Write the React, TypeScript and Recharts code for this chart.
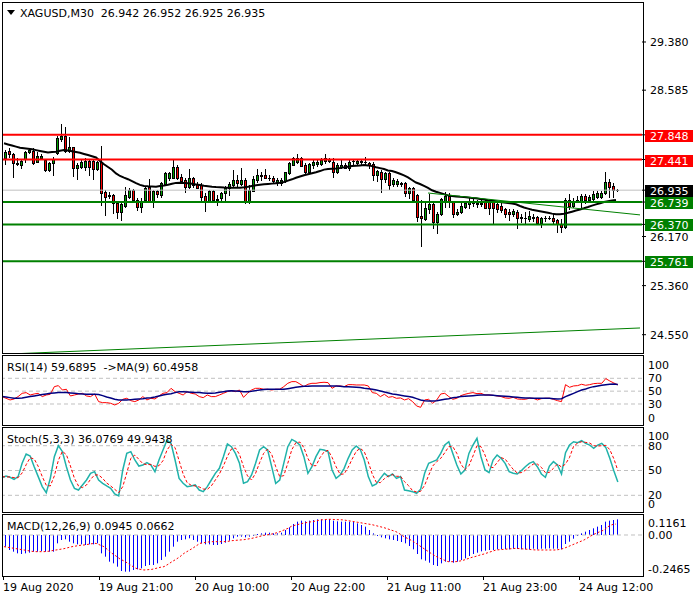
import React from 'react';
import { ComposedChart, Bar, Line, XAxis, YAxis, ReferenceLine } from 'recharts';

const FONT = '"DejaVu Sans", Verdana, sans-serif';

// ---------- data ----------
const opens = [27.471,27.581,27.537,27.378,27.350,27.449,27.570,27.586,27.405,27.461,
27.433,27.268,27.378,27.543,27.779,27.829,27.581,27.652,27.296,27.322,
27.312,27.416,27.421,27.284,27.405,26.900,26.855,26.855,26.718,26.580,
26.679,26.827,26.938,26.773,26.662,26.773,26.992,26.756,26.921,26.855,
27.032,27.141,27.141,27.322,27.157,27.103,26.992,27.141,27.032,27.020,
26.844,26.756,26.921,26.794,26.801,26.883,26.966,27.020,27.103,27.032,
27.103,26.735,26.921,27.103,27.174,27.185,27.141,27.141,27.065,27.048,
27.086,27.213,27.350,27.405,27.461,27.350,27.240,27.350,27.362,27.362,
27.416,27.416,27.405,27.230,27.322,27.350,27.296,27.416,27.388,27.405,
27.405,27.378,27.362,27.185,27.240,27.119,27.213,27.032,27.032,27.032,
27.048,26.883,26.966,26.855,26.514,26.459,26.624,26.702,26.415,26.537,
26.756,26.844,26.735,26.537,26.570,26.662,26.702,26.718,26.718,26.712,
26.735,26.735,26.735,26.702,26.679,26.624,26.570,26.547,26.580,26.497,
26.481,26.459,26.487,26.497,26.388,26.471,26.476,26.471,26.443,26.372,
26.332,26.773,26.679,26.740,26.756,26.844,26.773,26.789,26.827,26.827,
26.883,27.065,27.009,26.942];

const highs = [27.598,27.626,27.548,27.471,27.433,27.581,27.636,27.626,27.570,27.527,
27.444,27.405,27.487,27.834,28.022,27.982,27.817,27.652,27.378,27.433,
27.461,27.433,27.444,27.416,27.664,26.938,26.900,26.872,26.756,26.718,
26.992,26.976,26.954,26.801,26.801,27.009,27.119,26.938,26.938,27.075,
27.240,27.240,27.433,27.350,27.197,27.131,27.284,27.157,27.065,27.048,
26.883,26.938,26.938,26.855,26.910,27.009,27.075,27.268,27.185,27.306,
27.141,27.020,27.174,27.284,27.240,27.284,27.185,27.174,27.141,27.141,
27.240,27.405,27.487,27.527,27.487,27.378,27.378,27.449,27.433,27.471,
27.527,27.471,27.471,27.378,27.433,27.378,27.433,27.449,27.449,27.433,
27.487,27.405,27.395,27.268,27.268,27.240,27.240,27.131,27.119,27.075,
27.075,26.992,26.992,26.867,26.773,26.756,26.867,26.735,26.570,26.811,
26.900,26.883,26.756,26.624,26.718,26.756,26.801,26.789,26.773,26.773,
26.773,26.773,26.756,26.735,26.718,26.646,26.624,26.624,26.608,26.537,
26.580,26.591,26.537,26.514,26.497,26.514,26.514,26.553,26.459,26.459,
26.801,26.867,26.811,26.844,26.867,26.867,26.855,26.921,26.921,26.921,
27.240,27.119,27.048,26.952];

const lows = [27.362,27.487,27.157,27.350,27.296,27.405,27.543,27.372,27.395,27.449,
27.251,27.251,27.185,27.527,27.746,27.570,27.570,27.174,27.114,27.296,
27.268,27.185,27.114,27.268,26.690,26.525,26.801,26.553,26.481,26.443,
26.662,26.801,26.756,26.608,26.580,26.756,26.735,26.662,26.827,26.827,
27.020,27.103,27.131,27.119,27.075,26.900,26.976,26.992,26.976,26.756,
26.591,26.745,26.756,26.690,26.756,26.773,26.855,27.009,26.992,27.020,
26.718,26.718,26.921,27.075,27.103,27.131,27.103,27.075,27.020,27.020,
27.075,27.197,27.350,27.378,27.339,27.213,27.230,27.296,27.339,27.350,
27.378,27.395,27.157,27.213,27.296,27.296,27.268,27.362,27.362,27.350,
27.350,27.306,27.103,27.086,26.900,27.075,26.954,27.009,27.009,27.009,
26.844,26.801,26.735,26.426,26.018,26.443,26.553,26.316,26.223,26.525,
26.662,26.662,26.497,26.525,26.553,26.636,26.646,26.679,26.662,26.679,
26.636,26.537,26.388,26.580,26.570,26.497,26.443,26.514,26.306,26.405,
26.388,26.426,26.426,26.388,26.332,26.426,26.459,26.388,26.250,26.240,
26.316,26.624,26.662,26.735,26.646,26.718,26.735,26.773,26.801,26.811,
26.867,26.827,26.827,26.925];

const closes = [27.570,27.537,27.378,27.362,27.416,27.560,27.598,27.388,27.494,27.499,
27.268,27.378,27.449,27.801,27.834,27.581,27.652,27.296,27.350,27.405,
27.421,27.312,27.279,27.395,26.893,26.827,26.839,26.718,26.580,26.702,
26.855,26.938,26.773,26.662,26.756,26.966,26.756,26.921,26.867,27.048,
27.213,27.213,27.322,27.141,27.086,26.992,27.131,27.020,26.976,26.827,
26.756,26.921,26.773,26.773,26.883,26.966,27.032,27.103,27.048,27.103,
26.735,26.938,27.119,27.185,27.180,27.141,27.131,27.086,27.103,27.103,
27.230,27.378,27.461,27.461,27.339,27.230,27.362,27.395,27.405,27.433,
27.461,27.444,27.230,27.350,27.350,27.306,27.405,27.421,27.416,27.411,
27.400,27.350,27.185,27.251,27.119,27.213,27.020,27.103,27.086,27.048,
26.883,26.966,26.773,26.497,26.471,26.636,26.702,26.415,26.537,26.789,
26.844,26.735,26.537,26.580,26.679,26.718,26.735,26.723,26.702,26.718,
26.646,26.646,26.636,26.624,26.608,26.537,26.547,26.591,26.481,26.471,
26.471,26.514,26.481,26.388,26.471,26.481,26.478,26.426,26.372,26.332,
26.773,26.679,26.735,26.773,26.844,26.773,26.827,26.867,26.883,26.883,
27.065,26.992,26.938,26.935];

const movingAvg = [27.708,27.690,27.672,27.654,27.636,27.628,27.618,27.609,27.596,27.583,
27.570,27.557,27.563,27.570,27.585,27.598,27.589,27.578,27.565,27.553,
27.533,27.514,27.494,27.474,27.418,27.362,27.317,27.271,27.212,27.169,
27.141,27.116,27.083,27.050,27.022,27.004,26.999,26.996,26.992,27.002,
27.012,27.024,27.040,27.055,27.057,27.053,27.050,27.040,27.029,27.019,
27.009,27.001,26.992,26.987,26.984,26.979,26.976,26.976,26.976,26.976,
26.982,26.992,27.004,27.015,27.024,27.032,27.037,27.043,27.050,27.057,
27.071,27.093,27.114,27.139,27.161,27.182,27.199,27.215,27.230,27.250,
27.274,27.283,27.288,27.293,27.301,27.311,27.322,27.334,27.339,27.344,
27.350,27.344,27.332,27.312,27.299,27.283,27.261,27.251,27.230,27.205,
27.180,27.147,27.103,27.061,27.037,27.005,26.971,26.933,26.910,26.890,
26.870,26.849,26.839,26.832,26.825,26.821,26.814,26.807,26.801,26.791,
26.781,26.769,26.760,26.751,26.741,26.733,26.723,26.713,26.702,26.674,
26.649,26.631,26.611,26.598,26.586,26.575,26.561,26.548,26.537,26.537,
26.545,26.561,26.580,26.598,26.617,26.636,26.657,26.680,26.700,26.718,
26.740,26.753,26.765,26.773];

const rsi = [41.5,38.9,36.3,37.8,41.5,46.6,47.7,44.0,45.6,46.6,
41.5,44.0,45.1,57.0,58.6,51.8,52.9,42.5,44.0,45.6,
46.6,42.5,41.5,45.6,33.7,32.1,32.1,31.1,28.5,31.1,
37.3,38.9,35.2,33.7,36.3,41.5,36.3,38.9,37.8,42.5,
46.6,47.7,54.4,49.2,46.6,44.0,49.2,46.6,45.6,41.5,
39.9,44.0,41.5,41.5,44.0,46.6,49.2,50.8,49.2,51.8,
40.4,46.6,51.8,54.4,54.4,52.9,52.9,51.8,52.9,52.9,
57.0,62.2,64.8,64.8,61.2,57.0,60.7,62.2,62.2,63.3,
63.8,63.3,54.4,58.1,58.1,57.0,60.1,60.1,59.6,59.6,
59.6,58.1,47.7,46.6,41.5,45.1,40.4,41.5,38.9,39.4,
36.3,38.3,33.7,26.9,24.8,36.3,37.3,31.1,36.3,45.6,
46.6,41.5,37.3,38.9,43.0,45.1,46.6,47.7,46.1,46.6,
44.0,44.0,43.5,42.5,41.5,39.4,38.9,40.4,37.8,37.3,
37.3,38.9,38.9,36.3,38.3,38.9,38.9,37.3,35.2,33.7,
60.1,56.0,58.1,58.6,60.7,59.1,60.1,61.7,62.2,62.2,
69.5,65.8,62.7,59.69];

const rsiMa = [41.5,40.9,39.9,38.9,38.9,39.4,40.4,41.5,42.5,43.5,
44.6,45.6,46.6,47.2,47.7,47.7,47.7,47.2,46.6,46.1,
45.6,45.1,45.1,45.1,44.6,43.0,40.9,39.4,37.3,36.3,
36.3,36.3,36.8,37.3,37.8,38.3,39.4,39.9,40.9,42.5,
44.0,45.1,46.1,47.7,49.2,49.2,48.7,48.2,47.7,47.7,
47.2,46.6,46.6,47.2,48.2,49.2,50.3,50.8,50.3,49.8,
49.2,49.2,49.8,50.8,51.8,52.4,52.9,52.9,52.9,52.9,
52.9,53.9,54.9,56.0,57.0,57.5,57.5,58.1,58.1,58.1,
58.1,58.1,58.1,58.1,57.5,57.0,57.0,56.5,56.0,55.5,
54.4,53.9,52.9,51.8,50.3,48.7,47.2,45.6,44.6,43.5,
42.5,41.5,40.4,38.3,36.3,35.2,34.7,34.7,35.2,36.3,
37.3,38.3,39.9,40.4,41.5,42.0,42.5,43.0,43.5,44.0,
44.0,44.0,43.5,43.0,42.5,42.0,41.5,40.9,40.4,39.9,
39.4,39.4,38.9,38.9,38.9,38.9,38.9,38.3,37.8,38.3,
41.5,44.0,46.6,49.2,51.8,53.4,55.5,57.0,58.1,59.1,
60.1,60.7,61.2,60.50];

const stochK = [41.3,43.4,41.8,39.3,42.6,58.7,69.9,67.5,54.6,42.6,
30.5,23.2,40.5,66.7,80.0,72.8,54.6,38.5,28.4,26.4,
32.5,38.5,46.6,48.6,38.5,34.5,31.3,28.4,21.6,19.2,
50.6,70.7,72.8,62.7,55.4,56.6,59.5,56.6,48.6,62.7,
74.8,86.8,82.8,62.7,40.5,34.5,30.5,31.3,32.5,26.4,
24.4,30.5,38.5,46.6,52.6,66.7,82.0,78.8,70.7,58.7,
34.5,36.5,44.6,58.7,74.8,78.8,74.8,54.6,34.5,38.5,
58.7,78.8,87.6,84.8,80.8,66.7,46.6,54.6,66.7,75.6,
74.8,72.8,50.6,40.5,44.6,52.6,64.7,74.8,79.6,75.6,
62.7,42.6,31.3,33.7,40.5,46.6,42.6,45.8,40.5,42.6,
26.4,25.6,24.4,22.4,27.2,46.6,58.7,60.7,62.7,70.7,
80.8,84.8,70.7,56.6,45.8,50.6,70.7,80.8,88.9,66.7,
50.6,47.4,62.7,68.7,64.7,58.7,48.6,46.6,45.8,49.8,
54.6,58.7,60.7,54.6,45.8,41.8,55.4,60.7,56.6,45.8,
71.5,80.8,84.8,83.6,86.0,82.8,80.8,76.8,80.8,82.8,
78.0,64.7,49.8,36.08];

const stochD = [42.6,42.2,42.2,41.3,41.3,47.0,57.0,65.5,63.9,55.0,
42.6,32.1,31.3,43.4,62.3,73.2,69.1,55.4,40.5,31.3,
29.3,32.5,39.3,44.6,44.6,40.5,34.9,31.3,27.2,23.2,
30.5,47.0,64.7,68.7,63.5,58.2,57.0,57.4,55.0,55.8,
61.9,74.8,81.6,77.6,61.9,45.8,35.3,32.1,31.3,30.1,
27.6,27.2,31.3,38.5,45.8,55.4,67.1,76.0,77.2,69.5,
54.6,43.4,38.5,46.6,59.5,70.7,76.0,69.5,54.6,42.6,
43.8,58.7,75.2,83.6,84.4,77.6,64.7,55.8,55.8,65.5,
72.4,74.4,65.9,54.6,45.4,45.8,53.8,63.9,73.2,76.8,
72.8,60.3,45.4,35.7,35.3,40.1,43.4,45.0,43.0,43.0,
36.5,31.7,25.6,24.0,24.8,32.1,44.2,55.4,60.7,64.7,
71.5,78.8,78.8,70.7,57.8,51.0,55.8,67.5,80.0,78.8,
68.7,55.0,53.4,59.5,65.5,63.9,57.4,51.4,47.0,47.4,
50.2,54.2,57.8,57.8,53.8,47.4,47.8,52.6,57.8,54.2,
57.8,65.9,79.2,83.2,84.8,84.0,83.2,80.0,79.6,80.0,
80.4,75.2,64.3,49.94];

const macdHist = [-0.0705,-0.0906,-0.1007,-0.1108,-0.1148,-0.1108,-0.1067,-0.1007,-0.1007,-0.0967,
-0.1007,-0.1007,-0.1007,-0.0504,-0.0302,-0.0262,-0.0403,-0.0504,-0.0564,-0.0564,
-0.0604,-0.0564,-0.0564,-0.0504,-0.1108,-0.1309,-0.1611,-0.1712,-0.1913,-0.2175,
-0.2216,-0.2216,-0.2115,-0.2074,-0.2014,-0.1873,-0.1813,-0.1813,-0.1712,-0.1511,
-0.1309,-0.1007,-0.0705,-0.0403,-0.0302,-0.0262,-0.0201,-0.0302,-0.0403,-0.0504,
-0.0564,-0.0564,-0.0604,-0.0604,-0.0544,-0.0463,-0.0342,-0.0201,-0.0101,-0.0101,
-0.0141,-0.0101,-0.0020,0.0060,0.0101,0.0141,0.0141,0.0101,0.0101,0.0141,
0.0302,0.0463,0.0665,0.0806,0.0866,0.0826,0.0866,0.0906,0.0947,0.0947,
0.0947,0.0967,0.0866,0.0826,0.0806,0.0806,0.0806,0.0785,0.0705,0.0604,
0.0504,0.0302,0.0101,-0.0040,-0.0141,-0.0201,-0.0262,-0.0302,-0.0363,-0.0423,
-0.0504,-0.0665,-0.0866,-0.1148,-0.1470,-0.1551,-0.1672,-0.1813,-0.1873,-0.1712,
-0.1611,-0.1611,-0.1672,-0.1611,-0.1511,-0.1410,-0.1269,-0.1148,-0.1067,-0.0987,
-0.0947,-0.0906,-0.0906,-0.0866,-0.0846,-0.0846,-0.0866,-0.0826,-0.0846,-0.0866,
-0.0866,-0.0866,-0.0826,-0.0866,-0.0826,-0.0826,-0.0806,-0.0826,-0.0826,-0.0866,
-0.0544,-0.0403,-0.0222,-0.0060,0.0101,0.0201,0.0302,0.0403,0.0504,0.0604,
0.0806,0.0866,0.0906,0.0945];

const macdSignal = [-0.0705,-0.0745,-0.0785,-0.0826,-0.0866,-0.0906,-0.0947,-0.0987,-0.1007,-0.1007,
-0.1007,-0.0987,-0.0947,-0.0906,-0.0866,-0.0826,-0.0765,-0.0705,-0.0665,-0.0624,
-0.0604,-0.0564,-0.0524,-0.0504,-0.0604,-0.0705,-0.0906,-0.1108,-0.1269,-0.1450,
-0.1571,-0.1712,-0.1873,-0.2014,-0.2074,-0.2115,-0.2095,-0.2074,-0.2014,-0.1954,
-0.1913,-0.1772,-0.1611,-0.1470,-0.1309,-0.1108,-0.0967,-0.0826,-0.0665,-0.0504,
-0.0463,-0.0423,-0.0403,-0.0403,-0.0403,-0.0403,-0.0383,-0.0342,-0.0322,-0.0302,
-0.0282,-0.0242,-0.0201,-0.0141,-0.0081,-0.0020,0.0020,0.0060,0.0121,0.0201,
0.0302,0.0403,0.0544,0.0604,0.0665,0.0725,0.0765,0.0806,0.0846,0.0906,
0.0926,0.0947,0.0947,0.0926,0.0926,0.0906,0.0866,0.0826,0.0785,0.0745,
0.0705,0.0665,0.0624,0.0564,0.0504,0.0443,0.0363,0.0282,0.0201,0.0060,
-0.0101,-0.0222,-0.0342,-0.0504,-0.0665,-0.0826,-0.0987,-0.1148,-0.1289,-0.1410,
-0.1511,-0.1611,-0.1611,-0.1611,-0.1571,-0.1511,-0.1430,-0.1349,-0.1289,-0.1208,
-0.1148,-0.1067,-0.0987,-0.0906,-0.0886,-0.0866,-0.0846,-0.0826,-0.0806,-0.0826,
-0.0846,-0.0866,-0.0886,-0.0906,-0.0906,-0.0906,-0.0906,-0.0906,-0.0906,-0.0866,
-0.0806,-0.0705,-0.0604,-0.0504,-0.0403,-0.0302,-0.0161,-0.0020,0.0101,0.0201,
0.0302,0.0504,0.0624,0.0662];

const SLOTS = 160; // 154 bars + right shift
const timeTickIndex = [0, 24, 48, 72, 96, 120, 144];
const timeTickLabels = ['19 Aug 2020', '19 Aug 21:00', '20 Aug 10:00', '20 Aug 22:00', '21 Aug 11:00', '21 Aug 23:00', '24 Aug 12:00'];

const priceTicks = [29.38, 28.585, 26.17, 25.36, 24.55];
const lastPrice = 26.935;
const levelValues = [27.848, 27.441, 26.739, 26.37, 25.761];
const levelColors = ['#ff0000', '#ff0000', '#008000', '#008000', '#008000'];
// trend lines: [startBar, startPrice, endBar, endPrice]
const trendLines = [
  [0, 24.228, 159, 24.661],
  [106, 26.888, 159, 26.527],
];

const rsiTicks = [100, 70, 50, 30, 0];
const rsiLevels = [70, 50, 30];
const stochTicks = [100, 80, 50, 20, 0];
const stochLevels = [80, 50, 20];
const macdTicks = [0.1161, 0, -0.2465];

const rows = Array.from({ length: SLOTS }, (_, i) =>
  i < opens.length
    ? {
        i,
        range: [lows[i], highs[i]],
        open: opens[i], high: highs[i], low: lows[i], close: closes[i],
        ma: movingAvg[i], rsi: rsi[i], rsiMa: rsiMa[i],
        k: stochK[i], d: stochD[i], hist: macdHist[i], sig: macdSignal[i],
      }
    : { i }
);

// ---------- shapes ----------
function Candle(props: any) {
  const { x, y, width, height, payload } = props;
  if (!payload || payload.high == null || !(height > 0)) return <g />;
  const { open, close, high, low } = payload;
  const cx = Math.round(x + width / 2);
  const k = height / (high - low);
  const py = (v: number) => y + (high - v) * k;
  const hi = Math.round(y);
  const lo = Math.round(y + height);
  const top = Math.round(py(Math.max(open, close)));
  const bot = Math.round(py(Math.min(open, close)));
  const h = Math.max(bot - top, 0);
  const bull = close >= open;
  return (
    <g>
      <rect x={cx} y={hi} width={1} height={lo - hi + 1} fill="#000" />
      <rect x={cx - 1} y={top} width={3} height={h + 1} fill="#000" />
      {h >= 2 && <rect x={cx} y={top + 1} width={1} height={h - 1} fill={bull ? '#00a000' : '#ff0000'} />}
    </g>
  );
}

function HistBar(props: any) {
  const { x, y, width, height } = props;
  if (height == null || isNaN(height) || isNaN(y)) return <g />;
  const cx = Math.round(x + width / 2);
  const y0 = Math.min(y, y + height);
  const h = Math.abs(height);
  return <rect x={cx} y={y0} width={1} height={Math.max(h, 1)} fill="#0000ff" />;
}

function PriceTick(props: any) {
  const { x, y, payload } = props;
  const v = payload.value as number;
  const label = v.toFixed(3);
  let box: string | null = null;
  if (v === lastPrice) box = '#000000';
  const li = levelValues.indexOf(v);
  if (li >= 0) box = levelColors[li];
  if (box) {
    const top = Math.round(y) - 5;
    return (
      <g>
        <rect x={x - 5} y={top} width={48} height={12} fill={box} />
        <text x={x} y={top + 10} fill="#fff" fontSize={11} fontFamily={FONT}>{label}</text>
      </g>
    );
  }
  return <text x={x} y={y + 4} fill="#000" fontSize={11} fontFamily={FONT}>{label}</text>;
}

function makeSubTick(cTop: number, cBottom: number, fmt: (v: number) => string) {
  return (props: any) => {
    const { x, y, payload } = props;
    const cy = Math.min(Math.max(y, cTop), cBottom);
    return (
      <text x={x} y={cy + 4} fill="#000" fontSize={11} fontFamily={FONT}>{fmt(payload.value)}</text>
    );
  };
}

function TimeTick(props: any) {
  const { x, y, payload } = props;
  const idx = timeTickIndex.indexOf(payload.value);
  if (idx < 0) return <g />;
  const tx = Math.round(x) - 1;
  return (
    <g>
      <line x1={tx + 0.5} x2={tx + 0.5} y1={y} y2={y + 4} stroke="#000" />
      <text x={tx} y={y + 15} fill="#000" fontSize={11} fontFamily={FONT}>{timeTickLabels[idx]}</text>
    </g>
  );
}

const rsiTick = makeSubTick(10, 63, (v) => String(v));
const stochTick = makeSubTick(8.7, 77, (v) => String(v));
const macdTick = makeSubTick(9.3, 54.7, (v) => (v === 0 ? '0.00' : v.toFixed(4)));

const box = (top: number, height: number): React.CSSProperties => ({
  position: 'absolute', left: 2, top, width: 642, height, boxSizing: 'border-box',
  border: '1px solid #000', pointerEvents: 'none',
});

export default function App() {
  return (
    <div style={{ position: 'absolute', left: 0, top: 0, width: 700, height: 600, background: '#fff', fontFamily: FONT }}>
      {/* main price chart */}
      <div style={{ position: 'absolute', left: 0, top: 0 }}>
        <ComposedChart width={700} height={356} data={rows} margin={{ top: 3, right: 0, bottom: 3, left: 2 }}>
          <XAxis dataKey="i" type="category" hide />
          <YAxis
            orientation="right" width={58} type="number" domain={[24.248, 30.0235]} allowDataOverflow
            ticks={[...priceTicks, lastPrice, ...levelValues]} interval={0}
            tick={(p: any) => <PriceTick {...p} />} tickSize={4} tickMargin={4}
            tickLine={{ stroke: '#000' }} axisLine={false}
          />
          <ReferenceLine y={lastPrice} stroke="#c0c0c0" strokeWidth={1} />
          <Bar dataKey="range" barSize={3} shape={(p: any) => <Candle {...p} />} isAnimationActive={false} />
          <Line dataKey="ma" stroke="#000" strokeWidth={2} dot={false} isAnimationActive={false} />
          {trendLines.map((t, n) => (
            <ReferenceLine key={'t' + n} segment={[{ x: t[0], y: t[1] }, { x: t[2], y: t[3] }]} stroke="#008000" strokeWidth={1} ifOverflow="hidden" />
          ))}
          {levelValues.map((v, n) => (
            <ReferenceLine key={'l' + n} y={v} stroke={levelColors[n]} strokeWidth={2} />
          ))}
        </ComposedChart>
      </div>

      {/* RSI */}
      <div style={{ position: 'absolute', left: 0, top: 355 }}>
        <ComposedChart width={700} height={71} data={rows} margin={{ top: 1, right: 0, bottom: 1, left: 2 }}>
          <XAxis dataKey="i" type="category" hide />
          <YAxis orientation="right" width={58} type="number" domain={[-2.7, 104.7]} allowDataOverflow
            ticks={rsiTicks} interval={0} tick={rsiTick} tickSize={0} tickMargin={6} tickLine={false} axisLine={false} />
          {rsiLevels.map((v) => (
            <ReferenceLine key={v} y={v} stroke="#c0c0c0" strokeDasharray="4 3" />
          ))}
          <Line dataKey="rsi" stroke="#ff0000" strokeWidth={1} dot={false} isAnimationActive={false} />
          <Line dataKey="rsiMa" stroke="#000080" strokeWidth={1.5} dot={false} isAnimationActive={false} />
        </ComposedChart>
      </div>

      {/* Stochastic */}
      <div style={{ position: 'absolute', left: 0, top: 427 }}>
        <ComposedChart width={700} height={86} data={rows} margin={{ top: 1, right: 0, bottom: 1, left: 2 }}>
          <XAxis dataKey="i" type="category" hide />
          <YAxis orientation="right" width={58} type="number" domain={[-0.2, 101.4]} allowDataOverflow
            ticks={stochTicks} interval={0} tick={stochTick} tickSize={0} tickMargin={6} tickLine={false} axisLine={false} />
          {stochLevels.map((v) => (
            <ReferenceLine key={v} y={v} stroke="#c0c0c0" strokeDasharray="4 3" />
          ))}
          <Line dataKey="k" stroke="#20b2aa" strokeWidth={1.5} dot={false} isAnimationActive={false} />
          <Line dataKey="d" stroke="#ff0000" strokeWidth={1} strokeDasharray="3 2" dot={false} isAnimationActive={false} />
        </ComposedChart>
      </div>

      {/* MACD */}
      <div style={{ position: 'absolute', left: 0, top: 514 }}>
        <ComposedChart width={700} height={85} data={rows} margin={{ top: 1, right: 0, bottom: 0, left: 2 }}>
          <XAxis dataKey="i" type="category" height={23} interval={0} tick={(p: any) => <TimeTick {...p} />}
            tickSize={0} tickMargin={0} tickLine={false} axisLine={false} />
          <YAxis orientation="right" width={58} type="number" domain={[-0.2477, 0.1208]} allowDataOverflow
            ticks={macdTicks} interval={0} tick={macdTick} tickSize={0} tickMargin={6} tickLine={false} axisLine={false} />
          <ReferenceLine y={0} stroke="#c0c0c0" strokeDasharray="4 3" />
          <Bar dataKey="hist" barSize={1} shape={(p: any) => <HistBar {...p} />} isAnimationActive={false} />
          <Line dataKey="sig" stroke="#ff0000" strokeWidth={1} strokeDasharray="2 2" dot={false} isAnimationActive={false} />
        </ComposedChart>
      </div>

      {/* panel frames */}
      <div style={box(2, 352)} />
      <div style={box(355, 71)} />
      <div style={box(427, 86)} />
      <div style={box(514, 63)} />

      {/* titles */}
      <svg width={700} height={600} style={{ position: 'absolute', left: 0, top: 0, pointerEvents: 'none' }}>
        <polygon points="7,10 15,10 11,15" fill="#000" />
        <text x={20} y={17} fontSize={11} fontFamily={FONT} fill="#000" style={{ whiteSpace: 'pre' }}>
          {'XAGUSD,M30  26.942 26.952 26.925 26.935'}
        </text>
        <text x={7} y={371} fontSize={11} fontFamily={FONT} fill="#000" style={{ whiteSpace: 'pre' }}>
          {'RSI(14) 59.6895  ->MA(9) 60.4958'}
        </text>
        <text x={7} y={443} fontSize={11} fontFamily={FONT} fill="#000" style={{ whiteSpace: 'pre' }}>
          {'Stoch(5,3,3) 36.0769 49.9438'}
        </text>
        <text x={7} y={530} fontSize={11} fontFamily={FONT} fill="#000" style={{ whiteSpace: 'pre' }}>
          {'MACD(12,26,9) 0.0945 0.0662'}
        </text>
      </svg>
    </div>
  );
}
